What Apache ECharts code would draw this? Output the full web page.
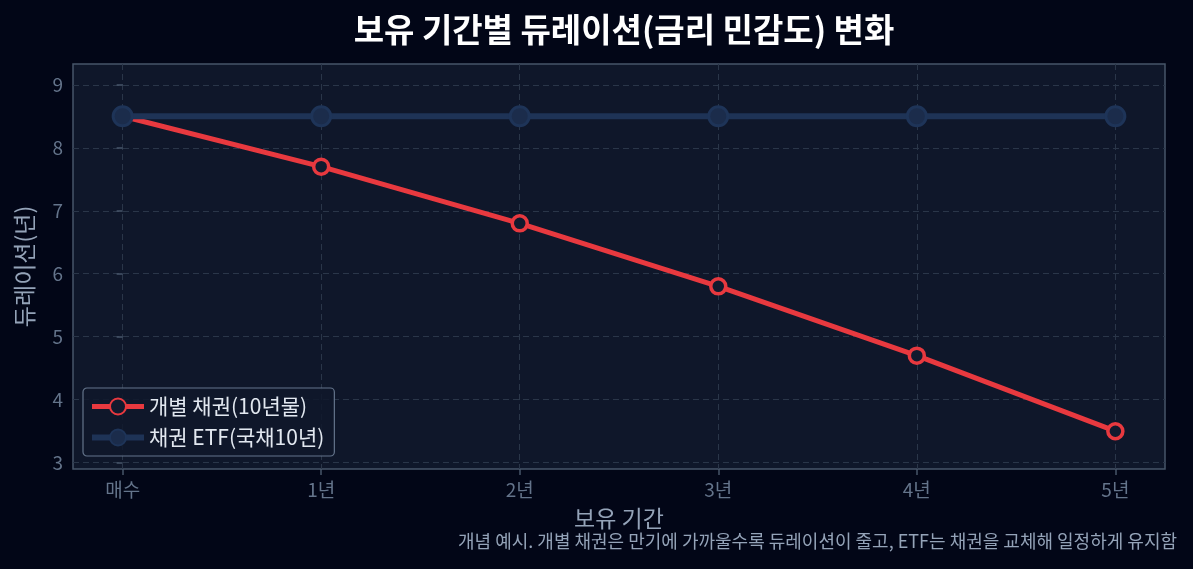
<!DOCTYPE html>
<html>
<head>
<meta charset="utf-8">
<script src="https://cdn.jsdelivr.net/npm/echarts@6/dist/echarts.min.js"></script>
<style>
html,body{margin:0;padding:0;background:#020617;}
#c{width:1193px;height:569px;}
</style>
</head>
<body>
<div id="c"></div>
<script>
const categories = ['매수', '1년', '2년', '3년', '4년', '5년'];
const bondValues = [8.5, 7.7, 6.8, 5.8, 4.7, 3.5];
const etfValues = [8.5, 8.5, 8.5, 8.5, 8.5, 8.5];
const yTicks = [3, 4, 5, 6, 7, 8, 9];
const xTicks = [0, 1, 2, 3, 4, 5];

const FONT = '"Noto Sans CJK KR", "Noto Sans", sans-serif';
const chart = echarts.init(document.getElementById('c'));
const toPairs = arr => arr.map((v, i) => [i, v]);

chart.setOption({
  backgroundColor: '#020617',
  animation: false,
  textStyle: { fontFamily: FONT },
  title: {
    text: '보유 기간별 듀레이션(금리 민감도) 변화',
    left: 619, top: 8, textAlign: 'center',
    textStyle: { color: '#ffffff', fontSize: 33, fontWeight: 'bold', fontFamily: FONT }
  },
  grid: {
    left: 73, right: 28, top: 64, bottom: 100,
    show: true, backgroundColor: '#0f172a', borderColor: '#475569', borderWidth: 1.5
  },
  legend: {
    orient: 'vertical', left: 83, top: 388,
    padding: [8, 10, 8, 6], itemGap: 10,
    itemWidth: 52, itemHeight: 20,
    backgroundColor: 'rgba(15,23,42,0.85)', borderColor: '#64748b', borderWidth: 1.2, borderRadius: 4,
    textStyle: { color: '#e2e8f0', fontSize: 21, fontFamily: FONT },
    data: [
      { name: '개별 채권(10년물)', lineStyle: { width: 5 } },
      { name: '채권 ETF(국채10년)', lineStyle: { width: 6 } }
    ]
  },
  xAxis: {
    type: 'value', min: -0.25, max: 5.25,
    name: '보유 기간', nameLocation: 'middle', nameGap: 38,
    nameTextStyle: { color: '#94a3b8', fontSize: 23, fontFamily: FONT },
    axisLine: { show: false },
    axisTick: { show: true, customValues: xTicks, length: 6, lineStyle: { color: '#475569', width: 1.5 } },
    axisLabel: {
      customValues: xTicks, color: '#64748b', fontSize: 19, margin: 11, fontFamily: FONT,
      formatter: v => categories[Math.round(v)]
    },
    splitLine: { show: true, lineStyle: { color: '#2a3649', type: [6, 4], width: 1 } }
  },
  yAxis: {
    type: 'value', min: 2.9, max: 9.33,
    name: '듀레이션(년)', nameLocation: 'middle', nameGap: 37,
    nameTextStyle: { color: '#94a3b8', fontSize: 23, fontFamily: FONT },
    axisLine: { show: false },
    axisTick: { show: true, customValues: yTicks, length: 6, lineStyle: { color: '#475569', width: 1.5 } },
    axisLabel: { customValues: yTicks, color: '#64748b', fontSize: 19, margin: 10, fontFamily: FONT },
    splitLine: { show: true, lineStyle: { color: '#2a3649', type: [6, 4], width: 1 } }
  },
  series: [
    {
      name: '개별 채권(10년물)', type: 'line', data: toPairs(bondValues),
      symbol: 'circle', symbolSize: 15,
      lineStyle: { color: '#e8393f', width: 5 },
      itemStyle: { color: '#111a2e', borderColor: '#e8393f', borderWidth: 3.5 }
    },
    {
      name: '채권 ETF(국채10년)', type: 'line', data: toPairs(etfValues),
      symbol: 'circle', symbolSize: 19,
      lineStyle: { color: '#1e3356', width: 6 },
      itemStyle: { color: '#1b2c4b', borderColor: '#1e3458', borderWidth: 3 }
    }
  ],
  graphic: [
    {
      type: 'text', right: 16, top: 532,
      style: {
        text: '개념 예시. 개별 채권은 만기에 가까울수록 듀레이션이 줄고, ETF는 채권을 교체해 일정하게 유지함',
        fill: '#94a3b8', fontSize: 18, fontFamily: FONT
      }
    }
  ]
});
</script>
</body>
</html>
